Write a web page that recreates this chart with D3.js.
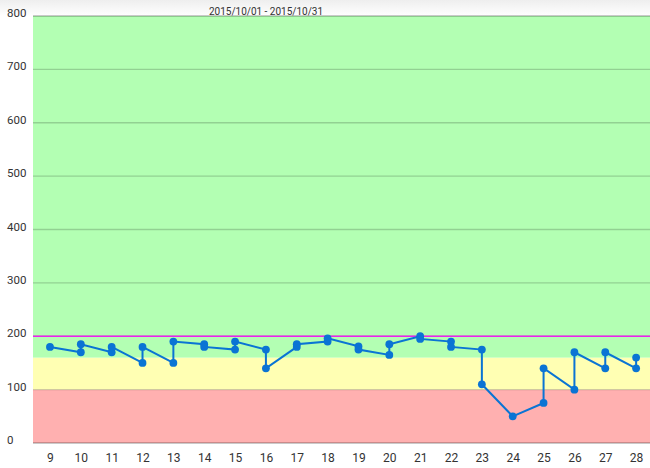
<!DOCTYPE html>
<html><head><meta charset="utf-8">
<script src="https://cdn.jsdelivr.net/npm/d3@7"></script>
<style>html,body{margin:0;padding:0;background:#fff;}svg{display:block;}</style>
</head><body>
<svg id="c" width="650" height="468"></svg>
<script>
const title = "2015/10/01 - 2015/10/31";
const days = [9,10,11,12,13,14,15,16,17,18,19,20,21,22,23,24,25,26,27,28];
// readings per day, in drawing order
const readings = [
  [180],
  [170,185],
  [170,180],
  [150,180],
  [150,190],
  [185,180],
  [175,190],
  [175,140],
  [180,185],
  [190,196],
  [181,175],
  [165,185],
  [200,195],
  [190,180],
  [175,110],
  [50],
  [75,140],
  [100,170],
  [140,170],
  [140,160]
];
const yTicks = [0,100,200,300,400,500,600,700,800];
const bands = [
  {from:0,to:100,color:"#ffb0b0"},
  {from:100,to:160,color:"#ffffb3"},
  {from:160,to:800,color:"#b3ffb3"}
];
const limitLine = 200;

const W=650,H=468;
const m={l:33,r:0,t:16,b:25};
const svg=d3.select("#c");
const x=d3.scaleLinear().domain([8.45,28.45]).range([m.l,W-m.r]);
const y=d3.scaleLinear().domain([0,800]).range([H-m.b,m.t]);

const defs=svg.append("defs");
const g=defs.append("linearGradient").attr("id","hdr").attr("x1",0).attr("y1",0).attr("x2",0).attr("y2",1);
g.append("stop").attr("offset","0%").attr("stop-color","#eeeeee");
g.append("stop").attr("offset","100%").attr("stop-color","#ffffff");
svg.append("rect").attr("x",0).attr("y",0).attr("width",W).attr("height",m.t).attr("fill","url(#hdr)");

svg.selectAll("rect.band").data(bands).join("rect").attr("class","band")
  .attr("x",m.l).attr("width",W-m.r-m.l)
  .attr("y",d=>y(d.to)).attr("height",d=>y(d.from)-y(d.to))
  .attr("fill",d=>d.color);

// gridlines
svg.selectAll("line.grid").data(yTicks).join("line").attr("class","grid")
  .attr("x1",m.l).attr("x2",W-m.r)
  .attr("y1",d=>y(d)).attr("y2",d=>y(d))
  .attr("stroke",d=>(d===0||d===800)?"rgba(0,0,0,0.28)":"rgba(0,0,0,0.18)")
  .attr("stroke-width",1.4);

svg.append("line").attr("x1",m.l).attr("x2",W-m.r)
  .attr("y1",y(limitLine)).attr("y2",y(limitLine))
  .attr("stroke","#ee22ee").attr("stroke-width",1.4);

// y labels
svg.selectAll("text.yl").data(yTicks).join("text").attr("class","yl")
  .attr("x",7).attr("y",d=>y(d)+1)
  .attr("font-family","Roboto, sans-serif").attr("font-size",11.5).attr("fill","#333")
  .text(d=>d);

// x axis labels via d3 axis
const xa=svg.append("g").attr("transform",`translate(0,${H-m.b})`)
  .call(d3.axisBottom(x).tickValues(days).tickSize(0).tickPadding(10).tickFormat(d3.format("d")));
xa.select(".domain").remove();
xa.selectAll("text").attr("font-family","Roboto, sans-serif").attr("font-size",12).attr("fill","#333");

// title
svg.append("text").attr("x",266).attr("y",14.5).attr("text-anchor","middle")
  .attr("font-family","Roboto, sans-serif").attr("font-size",10).attr("fill","#333")
  .text(title);

const pts=[];
days.forEach((d,i)=>readings[i].forEach(v=>pts.push({d,v})));
svg.append("path").datum(pts)
  .attr("d",d3.line().x(p=>x(p.d)).y(p=>y(p.v)))
  .attr("fill","none").attr("stroke","#0a74d4").attr("stroke-width",2);
svg.selectAll("circle").data(pts).join("circle")
  .attr("cx",p=>x(p.d)).attr("cy",p=>y(p.v)).attr("r",3.9).attr("fill","#0a74d4");
</script>
</body></html>
